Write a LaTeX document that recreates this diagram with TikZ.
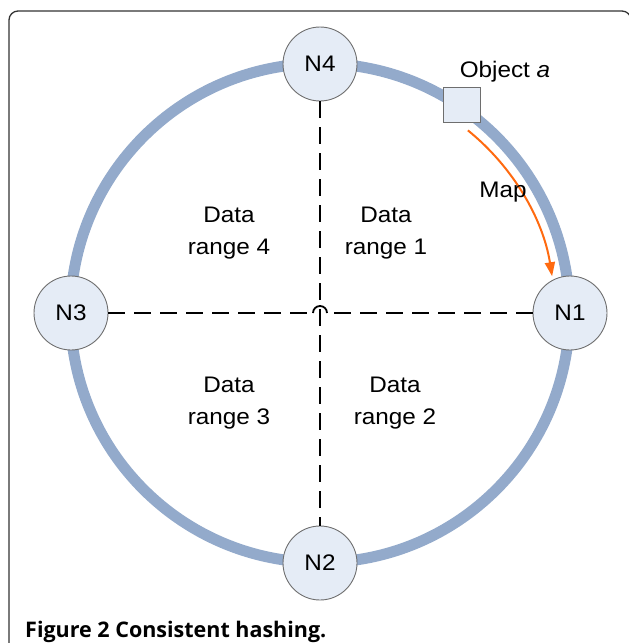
\documentclass[tikz,border=0pt]{standalone}
\usepackage{fontspec}
\setmainfont{Liberation Sans}[FakeStretch=1.08]
\newfontfamily\capfont{Open Sans}
\usetikzlibrary{arrows.meta}
\definecolor{ringblue}{HTML}{93AACB}
\definecolor{nodefill}{HTML}{E5ECF6}
\definecolor{nodeline}{HTML}{6E6E6E}
\definecolor{maporange}{HTML}{FF6A10}
\begin{document}
\begin{tikzpicture}[x=1pt,y=-1pt,
  ring/.style={draw=ringblue,line width=11pt},
  hashnode/.style={circle,draw=nodeline,line width=0.9pt,fill=nodefill,minimum size=74pt,inner sep=0pt,font=\fontsize{22.5}{27}\selectfont},
  objbox/.style={rectangle,draw=nodeline,line width=0.9pt,fill=nodefill,minimum width=37pt,minimum height=35pt,inner sep=0pt},
  dashline/.style={line width=1.8pt,dash pattern=on 17pt off 9pt},
  hopline/.style={line width=1.8pt},
  plainlabel/.style={font=\fontsize{22.5}{27}\selectfont,inner sep=0pt},
  rangelabel/.style={align=center,font=\fontsize{22.5}{31.5}\selectfont,inner sep=0pt},
  maparrow/.style={draw=maporange,line width=2pt,-{Triangle[length=14pt,width=10pt]}},
  framebox/.style={draw=black!80,line width=1.3pt,rounded corners=9pt},
  captionstyle/.style={anchor=base west,inner sep=0pt,font=\capfont\bfseries\fontsize{21.5}{24}\selectfont}]
\useasboundingbox (0,0) rectangle (629,643);
\draw[framebox] (9,11) rectangle (631,660);
\coordinate (O) at (320,313);
\draw[ring] (O) circle[radius=249.5];
\node[hashnode] (N1) at (570,313) {N1};
\node[hashnode] (N2) at (320,563) {N2};
\node[hashnode] (N3) at (71,313) {N3};
\node[hashnode] (N4) at (320,64) {N4};
\coordinate (hopL) at (313,313);
\coordinate (hopR) at (327,313);
\draw[dashline] (N4) -- (N2);
\draw[dashline] (N3) -- (hopL);
\draw[dashline] (N1) -- (hopR);
\draw[hopline] (hopL) arc[start angle=180,end angle=360,radius=7];
\node[objbox] (obj) at (462,105) {};
\node[plainlabel] (objlabel) at (505,72) {Object \textit{a}};
\draw[maparrow] (O) ++(-51:235) arc[start angle=-51,end angle=-9,radius=235];
\node[plainlabel] (maplabel) at (503,192) {Map};
\node[rangelabel] (r4) at (229,233) {Data\\range 4};
\node[rangelabel] (r1) at (386,233) {Data\\range 1};
\node[rangelabel] (r3) at (229,403) {Data\\range 3};
\node[rangelabel] (r2) at (395,403) {Data\\range 2};
\node[captionstyle] (caption) at (25,637) {Figure 2 Consistent hashing.};
\end{tikzpicture}
\end{document}
